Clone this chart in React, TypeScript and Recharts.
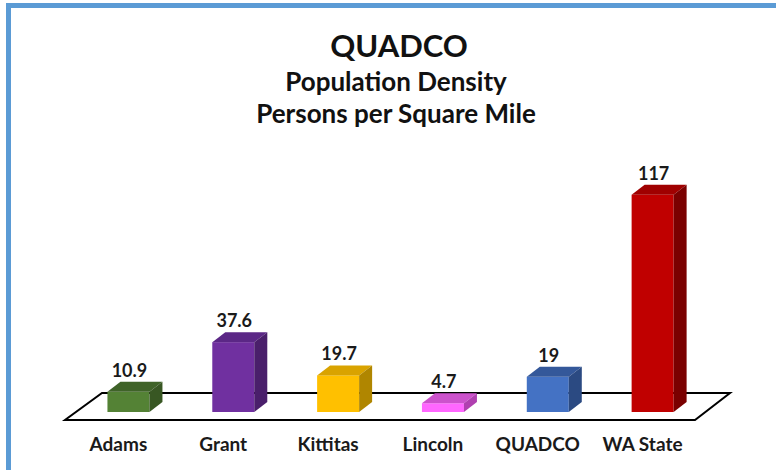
import React from 'react';
import { BarChart, Bar, XAxis, YAxis, ReferenceLine, LabelList } from 'recharts';

const categories = ['Adams', 'Grant', 'Kittitas', 'Lincoln', 'QUADCO', 'WA State'];
const density = [10.9, 37.6, 19.7, 4.7, 19, 117];
const valueLabels = ['10.9', '37.6', '19.7', '4.7', '19', '117'];
const frontColors = ['#548235', '#7030a0', '#ffc000', '#ff66ff', '#4472c4', '#c00000'];
const topColors = ['#3f6328', '#5b2786', '#d9a300', '#cc52cc', '#34589a', '#a00000'];
const sideColors = ['#385723', '#4a1f6b', '#b08600', '#b040b0', '#2b4a82', '#7a0000'];

const titleLines = ['QUADCO', 'Population Density', 'Persons per Square Mile'];

const data = categories.map((name, i) => ({ name, value: density[i], label: valueLabels[i], idx: i }));

const DX = 13;
const DY = 10;
const FONT = 'Lato, "Open Sans", sans-serif';

const Box3D = (props: any) => {
  const { x, y, width: w, height: h, payload } = props;
  const i = payload?.idx ?? props.index ?? 0;
  const top = `${x},${y} ${x + DX},${y - DY} ${x + w + DX},${y - DY} ${x + w},${y}`;
  const side = `${x + w},${y} ${x + w + DX},${y - DY} ${x + w + DX},${y + h - DY} ${x + w},${y + h}`;
  return (
    <g>
      <rect x={x} y={y} width={w} height={h} fill={frontColors[i]} />
      <polygon points={top} fill={topColors[i]} />
      <polygon points={side} fill={sideColors[i]} />
    </g>
  );
};

// floor plane drawn off the zero line
const Floor = (props: any) => {
  const { x1, x2, y1 } = props;
  const pts = `${x1 - 11},${y1 + 8} ${x2 - 10},${y1 + 8} ${x2 + 25},${y1 - 19} ${x1 + 26},${y1 - 19}`;
  return <polygon points={pts} fill="#ffffff" stroke="#000000" strokeWidth={2} strokeLinejoin="miter" />;
};

const ValueLabel = (props: any) => {
  const { x, y, width, value } = props;
  return (
    <text x={x + width / 2 + 1} y={y - DY - 5} textAnchor="middle" fill="#1a1a1a" fontSize={18} fontWeight={700} fontFamily={FONT}>
      {value}
    </text>
  );
};

const CategoryTick = (props: any) => {
  const { x, y, payload } = props;
  return (
    <text x={x - 10} y={y + 39} textAnchor="middle" fill="#1a1a1a" fontSize={19} fontWeight={700} fontFamily={FONT}>
      {payload.value}
    </text>
  );
};

export default function App() {
  return (
    <div style={{ position: 'absolute', left: 0, top: 0, width: 776, height: 470, background: '#ffffff', overflow: 'hidden' }}>
      <div style={{ position: 'absolute', left: 6, top: 3, width: 5, height: 467, background: '#5b9bd5' }} />
      <div style={{ position: 'absolute', left: 6, top: 3, width: 770, height: 5, background: '#5b9bd5' }} />
      <svg width={776} height={140} style={{ position: 'absolute', left: 0, top: 0 }}>
        <text x={399} y={57} textAnchor="middle" fontSize={31} fontWeight={700} fontFamily={FONT} fill="#111">
          {titleLines[0]}
        </text>
        <text x={396} y={91} textAnchor="middle" fontSize={26} fontWeight={700} fontFamily={FONT} fill="#111">
          {titleLines[1]}
        </text>
        <text x={396} y={123} textAnchor="middle" fontSize={26} fontWeight={700} fontFamily={FONT} fill="#111">
          {titleLines[2]}
        </text>
      </svg>
      <div style={{ position: 'absolute', left: 0, top: 0 }}>
        <BarChart width={776} height={470} data={data} margin={{ top: 152, right: 71, left: 76, bottom: 28 }} barCategoryGap="30%">
          <XAxis dataKey="name" axisLine={false} tickLine={false} tickSize={0} tickMargin={0} interval={0} height={30} tick={<CategoryTick />} />
          <YAxis hide domain={[0, 140]} />
          <ReferenceLine y={0} shape={<Floor />} zIndex={0} ifOverflow="visible" />
          <Bar dataKey="value" shape={<Box3D />} isAnimationActive={false}>
            <LabelList dataKey="label" content={<ValueLabel />} />
          </Bar>
        </BarChart>
      </div>
    </div>
  );
}
